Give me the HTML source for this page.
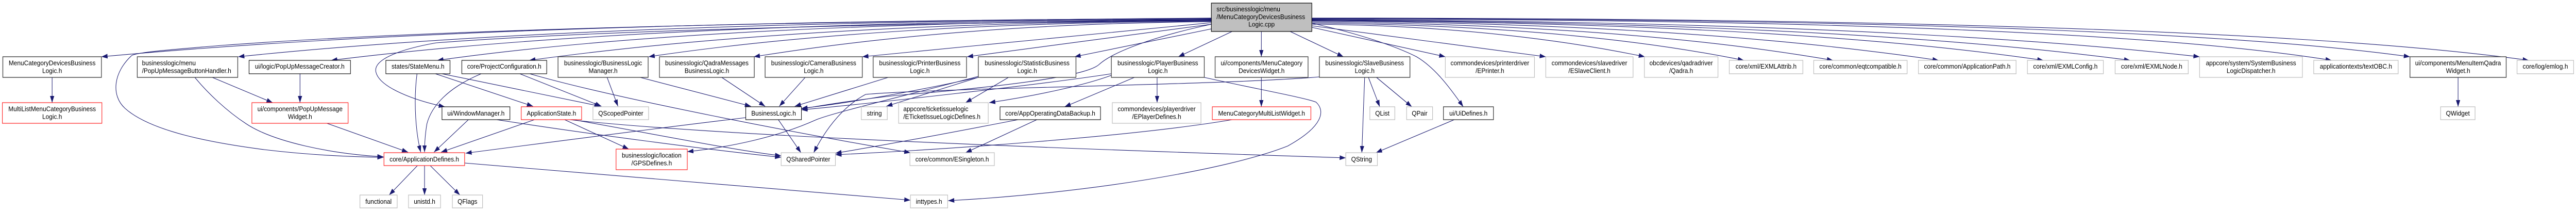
<!DOCTYPE html>
<html>
<head>
<meta charset="utf-8">
<style>
html,body{margin:0;padding:0;background:#fff;width:100%;height:100%;overflow:hidden;}
svg{display:block;position:absolute;left:0;top:0;width:100vw;height:100vh;}
text{font-family:"Liberation Sans",Arial,Helvetica,sans-serif;font-size:13px;fill:#000;}
.e{fill:none;stroke:#191970;stroke-width:1.1;marker-end:url(#a);}
.dk{fill:#fff;stroke:#404040;stroke-width:1.4;}
.bk{fill:#fff;stroke:#000;stroke-width:1.1;}
.rd{fill:#fff;stroke:#ff2020;stroke-width:1.2;}
.gy{fill:#fff;stroke:#bfbfbf;stroke-width:1.3;}
.m{text-anchor:middle;}
.s{text-anchor:start;}
</style>
</head>
<body>
<svg viewBox="0 0 5461 409" preserveAspectRatio="none" xmlns="http://www.w3.org/2000/svg">
<defs>
<marker id="a" markerWidth="14" markerHeight="10" refX="13" refY="4.5" orient="auto" markerUnits="userSpaceOnUse">
<path d="M0,0 L13,4.5 L0,9 z" fill="#191970"/>
</marker>
</defs>

<!-- root edges left -->
<path class="e" d="M2568,36 Q1039,40 215,110"/>
<path class="e" d="M2568,35 Q1100,45 470,88 C380,95 300,100 280,107 C240,140 235,185 265,210 C320,255 450,277 560,290 C650,300 740,304 813,305"/>
<path class="e" d="M2568,37 Q1227,41 505,110"/>
<path class="e" d="M2568,38 Q1355,42 702,117"/>
<path class="e" d="M2568,39 Q1400,50 925,83 C850,95 790,115 797,140 C805,170 880,195 943,207"/>
<path class="e" d="M2568,39 Q1501,43 927,117"/>
<path class="e" d="M2568,40 Q1700,44 1122,117"/>
<path class="e" d="M2568,41 Q1852,45 1375,110"/>
<path class="e" d="M2568,42 Q2034,46 1598,110"/>
<path class="e" d="M2568,44 L1828,110"/>
<path class="e" d="M2568,47 L2050,110"/>
<path class="e" d="M2568,56 L2278,110"/>
<path class="e" d="M2568,47 C2450,70 2360,100 2330,125 C2300,150 2100,170 1900,185 C1800,195 1740,205 1699,211"/>
<!-- root bottom -->
<path class="e" d="M2612,61 L2498,110"/>
<path class="e" d="M2674,61 L2674,110"/>
<path class="e" d="M2735,61 L2848,110"/>
<!-- root right -->
<path class="e" d="M2781,53 L3064,110"/>
<path class="e" d="M2781,45 C2880,65 2960,90 3003,110 C3040,130 3070,165 3102,207"/>
<path class="e" d="M2781,50 L3277,110"/>
<path class="e" d="M2781,47 Q3169,50 3487,110"/>
<path class="e" d="M2781,45 Q3331,49 3697,117"/>
<path class="e" d="M2781,43 Q3444,47 3886,117"/>
<path class="e" d="M2781,41 Q3578,45 4110,117"/>
<path class="e" d="M2781,40 Q3789,44 4332,117"/>
<path class="e" d="M2781,39 Q3909,43 4516,117"/>
<path class="e" d="M2781,38 Q4004,42 4663,110"/>
<path class="e" d="M2781,37 Q4403,37 4943,117"/>
<path class="e" d="M2781,36 Q4527,36 5109,110"/>
<path class="e" d="M2781,35 Q4716,35 5361,117"/>

<!-- other edges -->
<path class="e" d="M110.5,150 L110.5,199"/>
<path class="e" d="M450,150 L578,199"/>
<path class="e" d="M413,150 C440,180 480,215 522,240 C580,275 700,298 813,304"/>
<path class="e" d="M636,143 L636,199"/>
<path class="e" d="M693,239 L865,295"/>
<path class="e" d="M884,143 C876,200 882,260 892,295"/>
<path class="e" d="M1020,143 C950,170 915,205 905,240 C901,262 900,280 900,295"/>
<path class="e" d="M993,232 L920,295"/>
<path class="e" d="M1133,232 L935,295"/>
<path class="e" d="M1581,228 Q1380,250 987,297"/>
<path class="e" d="M923,143 L1130,206"/>
<path class="e" d="M937,143 L1273,206"/>
<path class="e" d="M1102,143 L1275,206"/>
<path class="e" d="M1123,143 C1300,190 1700,260 1930,296"/>
<path class="e" d="M1287,150 L1310,206"/>
<path class="e" d="M1357,150 L1592,206"/>
<path class="e" d="M1530,150 L1622,206"/>
<path class="e" d="M1707,150 L1652,206"/>
<path class="e" d="M1883,150 L1685,206"/>
<path class="e" d="M2074,150 C1950,175 1800,200 1699,210"/>
<path class="e" d="M2074,150 L1879,206"/>
<path class="e" d="M2138,150 L2047,199"/>
<path class="e" d="M2356,146 C2300,165 2200,185 2097,199"/>
<path class="e" d="M2356,143 C2200,165 1850,200 1699,213"/>
<path class="e" d="M2405,150 L2257,207"/>
<path class="e" d="M2453,150 L2453,199"/>
<path class="e" d="M2553,150 C2650,170 2770,190 2790,198 C2810,215 2805,245 2730,283 C2600,330 2300,375 2010,389"/>
<path class="e" d="M2674,150 L2674,207"/>
<path class="e" d="M2893,150 L2887,296"/>
<path class="e" d="M2901,150 L2925,207"/>
<path class="e" d="M2918,150 L2993,207"/>
<path class="e" d="M2797,149 C2600,165 2000,170 1835,183 C1780,210 1745,260 1725,296"/>
<path class="e" d="M3083,232 L2917,296"/>
<path class="e" d="M2612,232 C2400,265 2000,290 1771,300"/>
<path class="e" d="M2158,232 C2000,260 1850,285 1771,297"/>
<path class="e" d="M2198,232 L2047,296"/>
<path class="e" d="M1197,232 L1333,289"/>
<path class="e" d="M1208,232 C1500,262 2200,287 2853,306"/>
<path class="e" d="M1215,232 C1400,262 1550,290 1656,302"/>
<path class="e" d="M1053,232 C1250,260 1500,290 1656,305"/>
<path class="e" d="M1650,232 L1698,296"/>
<path class="e" d="M2074,148 C1900,190 1760,220 1728,233 C1650,265 1550,285 1457,294"/>
<path class="e" d="M885,321 L825,378"/>
<path class="e" d="M900,321 L900,378"/>
<path class="e" d="M912,321 L975,378"/>
<path class="e" d="M985,316 Q1500,355 1930,388"/>
<path class="e" d="M5211,150 L5211,207"/>

<!-- nodes -->
<rect x="2568" y="6" width="213" height="55" fill="#bfbfbf" stroke="#000" stroke-width="1.2"/>
<text class="s" x="2579" y="22">src/businesslogic/menu</text>
<text class="s" x="2579" y="37">/MenuCategoryDevicesBusiness</text>
<text class="m" x="2674.5" y="51.5">Logic.cpp</text>

<rect class="dk" x="6" y="110" width="209" height="40"/>
<text class="m" x="110.5" y="126.5">MenuCategoryDevicesBusiness</text>
<text class="m" x="110.5" y="141.5">Logic.h</text>

<rect class="rd" x="5" y="199" width="211" height="40"/>
<text class="m" x="110.5" y="215.5">MultiListMenuCategoryBusiness</text>
<text class="m" x="110.5" y="230.5">Logic.h</text>

<rect class="dk" x="291" y="110" width="213" height="40"/>
<text class="s" x="301" y="126.5">businesslogic/menu</text>
<text class="s" x="301" y="141.5">/PopUpMessageButtonHandler.h</text>

<rect class="bk" x="528" y="117" width="215" height="26"/>
<text class="m" x="635.5" y="133">ui/logic/PopUpMessageCreator.h</text>

<rect class="rd" x="534" y="199" width="204" height="40"/>
<text class="m" x="636" y="215.5">ui/components/PopUpMessage</text>
<text class="m" x="636" y="230.5">Widget.h</text>

<rect class="rd" x="814" y="296" width="171" height="25"/>
<text class="m" x="899.5" y="313">core/ApplicationDefines.h</text>

<rect class="gy" x="763" y="378" width="79" height="25"/>
<text class="m" x="802.5" y="395">functional</text>

<rect class="gy" x="866" y="378" width="68" height="25"/>
<text class="m" x="900" y="395">unistd.h</text>

<rect class="gy" x="959" y="378" width="64" height="25"/>
<text class="m" x="991" y="395">QFlags</text>

<rect class="bk" x="818" y="117" width="136" height="26"/>
<text class="m" x="886" y="133">states/StateMenu.h</text>

<rect class="bk" x="979" y="117" width="180" height="26"/>
<text class="m" x="1069" y="133">core/ProjectConfiguration.h</text>

<rect class="dk" x="1183" y="110" width="191" height="40"/>
<text class="m" x="1278.5" y="126.5">businesslogic/BusinessLogic</text>
<text class="m" x="1278.5" y="141.5">Manager.h</text>

<rect class="bk" x="937" y="207" width="144" height="25"/>
<text class="m" x="1009" y="224">ui/WindowManager.h</text>

<rect class="rd" x="1105" y="207" width="128" height="25"/>
<text class="m" x="1169" y="224">ApplicationState.h</text>

<rect class="gy" x="1257" y="207" width="118" height="25"/>
<text class="m" x="1316" y="224">QScopedPointer</text>

<rect class="rd" x="1306" y="289" width="151" height="40"/>
<text class="m" x="1381.5" y="305.5">businesslogic/location</text>
<text class="m" x="1381.5" y="320.5">/GPSDefines.h</text>

<rect class="dk" x="1398" y="110" width="201" height="40"/>
<text class="m" x="1498.5" y="126.5">businesslogic/QadraMessages</text>
<text class="m" x="1498.5" y="141.5">BusinessLogic.h</text>

<rect class="dk" x="1622" y="110" width="206" height="40"/>
<text class="m" x="1725" y="126.5">businesslogic/CameraBusiness</text>
<text class="m" x="1725" y="141.5">Logic.h</text>

<rect class="bk" x="1581" y="207" width="118" height="25"/>
<text class="m" x="1640" y="224">BusinessLogic.h</text>

<rect class="gy" x="1656" y="296" width="115" height="25"/>
<text class="m" x="1713.5" y="313">QSharedPointer</text>

<rect class="gy" x="1826" y="207" width="55" height="25"/>
<text class="m" x="1853.5" y="224">string</text>

<rect class="dk" x="1851" y="110" width="198" height="40"/>
<text class="m" x="1950" y="126.5">businesslogic/PrinterBusiness</text>
<text class="m" x="1950" y="141.5">Logic.h</text>

<rect class="dk" x="2074" y="110" width="207" height="40"/>
<text class="m" x="2177.5" y="126.5">businesslogic/StatisticBusiness</text>
<text class="m" x="2177.5" y="141.5">Logic.h</text>

<rect class="gy" x="1905" y="199" width="190" height="40"/>
<text class="s" x="1915" y="215.5">appcore/ticketissuelogic</text>
<text class="s" x="1915" y="230.5">/ETicketIssueLogicDefines.h</text>

<rect class="bk" x="2120" y="207" width="213" height="25"/>
<text class="m" x="2226.5" y="224">core/AppOperatingDataBackup.h</text>

<rect class="gy" x="1929" y="296" width="179" height="25"/>
<text class="m" x="2018.5" y="313">core/common/ESingleton.h</text>

<rect class="gy" x="1930" y="378" width="79" height="25"/>
<text class="m" x="1969.5" y="395">inttypes.h</text>

<rect class="dk" x="2356" y="110" width="197" height="40"/>
<text class="m" x="2454.5" y="126.5">businesslogic/PlayerBusiness</text>
<text class="m" x="2454.5" y="141.5">Logic.h</text>

<rect class="dk" x="2576" y="110" width="197" height="40"/>
<text class="m" x="2674.5" y="126.5">ui/components/MenuCategory</text>
<text class="m" x="2674.5" y="141.5">DevicesWidget.h</text>

<rect class="gy" x="2358" y="199" width="188" height="40"/>
<text class="m" x="2452" y="215.5">commondevices/playerdriver</text>
<text class="m" x="2452" y="230.5">/EPlayerDefines.h</text>

<rect class="rd" x="2570" y="207" width="209" height="25"/>
<text class="m" x="2674.5" y="224">MenuCategoryMultiListWidget.h</text>

<rect class="dk" x="2797" y="110" width="192" height="40"/>
<text class="m" x="2893" y="126.5">businesslogic/SlaveBusiness</text>
<text class="m" x="2893" y="141.5">Logic.h</text>

<rect class="gy" x="3064" y="110" width="189" height="40"/>
<text class="m" x="3158.5" y="126.5">commondevices/printerdriver</text>
<text class="m" x="3158.5" y="141.5">/EPrinter.h</text>

<rect class="gy" x="2904" y="207" width="53" height="25"/>
<text class="m" x="2930.5" y="224">QList</text>

<rect class="gy" x="2982" y="207" width="55" height="25"/>
<text class="m" x="3009.5" y="224">QPair</text>

<rect class="dk" x="3060" y="207" width="106" height="25"/>
<text class="m" x="3113" y="224">ui/UiDefines.h</text>

<rect class="gy" x="2853" y="296" width="67" height="25"/>
<text class="m" x="2886.5" y="313">QString</text>

<rect class="gy" x="3277" y="110" width="185" height="40"/>
<text class="m" x="3369.5" y="126.5">commondevices/slavedriver</text>
<text class="m" x="3369.5" y="141.5">/ESlaveClient.h</text>

<rect class="gy" x="3486" y="110" width="156" height="40"/>
<text class="m" x="3564" y="126.5">obcdevices/qadradriver</text>
<text class="m" x="3564" y="141.5">/Qadra.h</text>

<rect class="gy" x="3666" y="117" width="156" height="26"/>
<text class="m" x="3744" y="133">core/xml/EXMLAttrib.h</text>

<rect class="gy" x="3845" y="117" width="198" height="26"/>
<text class="m" x="3944" y="133">core/common/eqtcompatible.h</text>

<rect class="gy" x="4067" y="117" width="207" height="26"/>
<text class="m" x="4170.5" y="133">core/common/ApplicationPath.h</text>

<rect class="gy" x="4298" y="117" width="161" height="26"/>
<text class="m" x="4378.5" y="133">core/xml/EXMLConfig.h</text>

<rect class="gy" x="4484" y="117" width="155" height="26"/>
<text class="m" x="4561.5" y="133">core/xml/EXMLNode.h</text>

<rect class="gy" x="4663" y="110" width="218" height="40"/>
<text class="m" x="4772" y="126.5">appcore/system/SystemBusiness</text>
<text class="m" x="4772" y="141.5">LogicDispatcher.h</text>

<rect class="gy" x="4905" y="117" width="179" height="26"/>
<text class="m" x="4994.5" y="133">applicationtexts/textOBC.h</text>

<rect class="dk" x="5109" y="110" width="204" height="40"/>
<text class="m" x="5211" y="126.5">ui/components/MenuItemQadra</text>
<text class="m" x="5211" y="141.5">Widget.h</text>

<rect class="gy" x="5336" y="117" width="120" height="26"/>
<text class="m" x="5396" y="133">core/log/emlog.h</text>

<rect class="gy" x="5174" y="207" width="73" height="25"/>
<text class="m" x="5210.5" y="224">QWidget</text>
</svg>
</body>
</html>
